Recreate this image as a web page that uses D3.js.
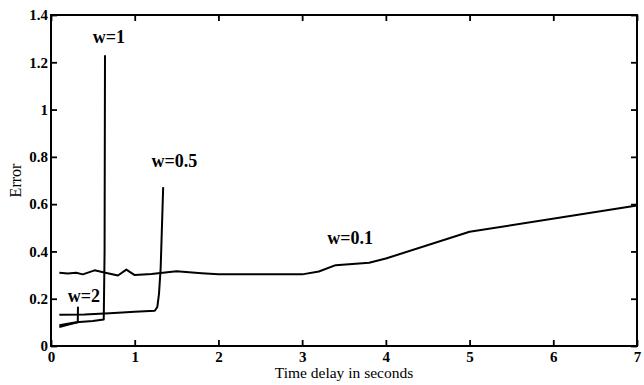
<!DOCTYPE html>
<html>
<head>
<meta charset="utf-8">
<script src="https://cdn.jsdelivr.net/npm/d3@7"></script>
<style>
  body { margin: 0; background: #fff; }
  .tick text { font-family: "Liberation Serif", "Times New Roman", serif; font-weight: bold; font-size: 15px; }
</style>
</head>
<body>
<div id="chart"></div>
<script>
var svgWidth = 644;
var svgHeight = 385;
var margin = { top: 15, right: 7, bottom: 39, left: 51 };
var width = svgWidth - margin.left - margin.right;
var height = svgHeight - margin.top - margin.bottom;

// w = 0.1
var t01 = [0.1, 0.2, 0.3, 0.38, 0.52, 0.65, 0.8, 0.9, 1.0, 1.2, 1.5, 1.8, 2.0, 2.5, 3.0, 3.2, 3.4, 3.8, 4.0, 5.0, 7.0];
var e01 = [0.31, 0.307, 0.31, 0.303, 0.32, 0.31, 0.298, 0.323, 0.30, 0.305, 0.316, 0.308, 0.303, 0.303, 0.303, 0.315, 0.342, 0.352, 0.37, 0.483, 0.594];
// w = 0.5
var t05 = [0.1, 0.4, 0.7, 1.0, 1.24, 1.27, 1.29, 1.31, 1.34];
var e05 = [0.132, 0.133, 0.138, 0.145, 0.149, 0.165, 0.22, 0.33, 0.672];
// w = 1
var t1 = [0.1, 0.3, 0.5, 0.63, 0.64, 0.645];
var e1 = [0.088, 0.1, 0.106, 0.112, 0.4, 1.23];
// w = 2
var t2 = [0.1, 0.2, 0.32, 0.322];
var e2 = [0.08, 0.09, 0.1, 0.166];

var xTicks = [0, 1, 2, 3, 4, 5, 6, 7];
var yTicks = [0, 0.2, 0.4, 0.6, 0.8, 1, 1.2, 1.4];

var series = [
  { t: t01, e: e01, label: "w=0.1", lx: 3.3, ly: 0.43 },
  { t: t05, e: e05, label: "w=0.5", lx: 1.2, ly: 0.755 },
  { t: t1, e: e1, label: "w=1", lx: 0.5, ly: 1.28 },
  { t: t2, e: e2, label: "w=2", lx: 0.2, ly: 0.186 }
];

var svg = d3.select("#chart")
  .append("svg")
  .attr("width", svgWidth)
  .attr("height", svgHeight);

var chartGroup = svg.append("g")
  .attr("transform", `translate(${margin.left}, ${margin.top})`);

var x = d3.scaleLinear().domain([0, 7]).range([0, width]);
var y = d3.scaleLinear().domain([0, 1.4]).range([height, 0]);

// axes with inward ticks on all four sides
chartGroup.append("g")
  .attr("transform", `translate(0, ${height})`)
  .call(d3.axisBottom(x).tickValues(xTicks).tickSizeInner(-6).tickSizeOuter(0).tickPadding(5).tickFormat(d3.format("d")));

chartGroup.append("g")
  .call(d3.axisTop(x).tickValues(xTicks).tickSizeInner(-6).tickSizeOuter(0).tickFormat(""));

chartGroup.append("g")
  .call(d3.axisLeft(y).tickValues(yTicks).tickSizeInner(-6).tickSizeOuter(0).tickPadding(3).tickFormat(d => d === 0 ? "0" : d3.format(".1~f")(d)));

chartGroup.append("g")
  .attr("transform", `translate(${width}, 0)`)
  .call(d3.axisRight(y).tickValues(yTicks).tickSizeInner(-6).tickSizeOuter(0).tickFormat(""));

chartGroup.selectAll(".domain").remove();
chartGroup.selectAll(".tick line").attr("stroke", "#000").attr("stroke-width", 1.8);
chartGroup.selectAll(".tick text").attr("fill", "#000");

// frame
chartGroup.append("rect")
  .attr("width", width)
  .attr("height", height)
  .attr("fill", "none")
  .attr("stroke", "#000")
  .attr("stroke-width", 2);

var line = d3.line()
  .x(d => x(d[0]))
  .y(d => y(d[1]));

series.forEach(function(s) {
  chartGroup.append("path")
    .datum(d3.zip(s.t, s.e))
    .attr("fill", "none")
    .attr("stroke", "#000")
    .attr("stroke-width", 2)
    .attr("stroke-linejoin", "round")
    .attr("d", line);

  chartGroup.append("text")
    .attr("x", x(s.lx))
    .attr("y", y(s.ly))
    .attr("font-family", "Liberation Serif, Times New Roman, serif")
    .attr("font-weight", "bold")
    .attr("font-size", "18px")
    .text(s.label);
});

// axis titles
svg.append("text")
  .attr("x", margin.left + width / 2)
  .attr("y", 378)
  .attr("text-anchor", "middle")
  .attr("font-family", "Liberation Serif, Times New Roman, serif")
  .attr("font-size", "15.5px")
  .text("Time delay in seconds");

svg.append("text")
  .attr("transform", `translate(21, ${margin.top + y(0.7)}) rotate(-90)`)
  .attr("text-anchor", "middle")
  .attr("font-family", "Liberation Serif, Times New Roman, serif")
  .attr("font-size", "16px")
  .text("Error");
</script>
</body>
</html>
